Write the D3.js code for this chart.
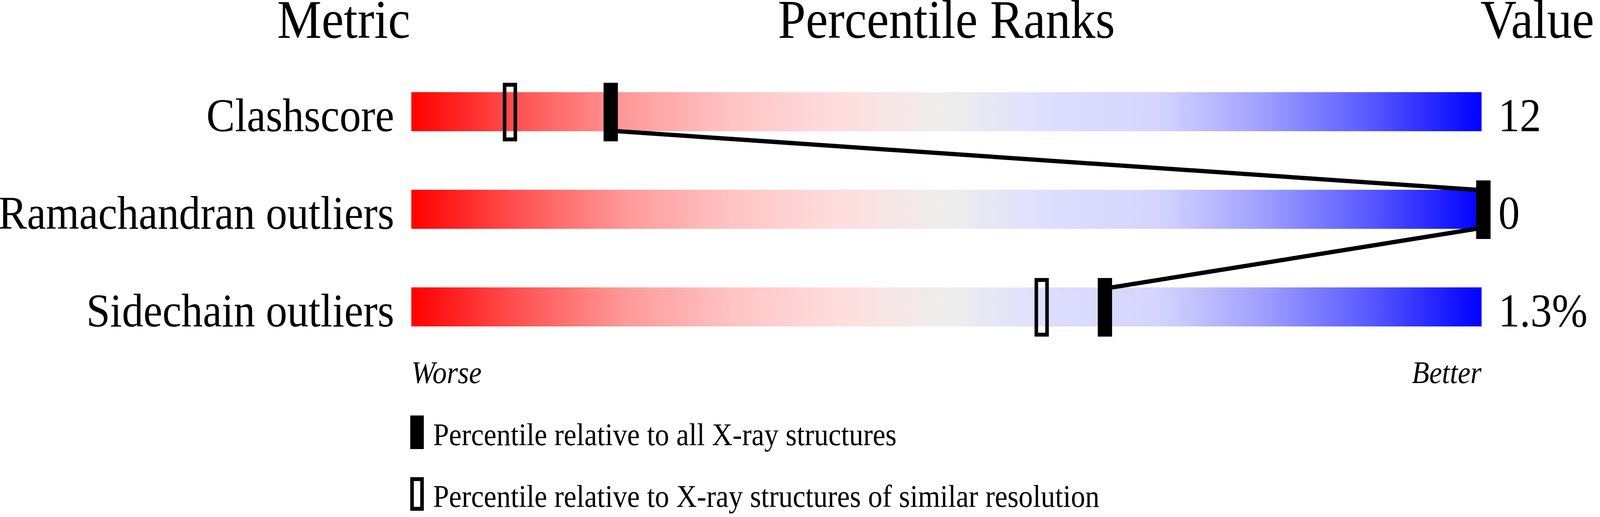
<!DOCTYPE html>
<html>
<head>
<meta charset="utf-8">
<script src="https://cdn.jsdelivr.net/npm/d3@7"></script>
<style>
  html, body { margin: 0; padding: 0; background: #fff; overflow: hidden; }
  svg { display: block; }
  text { font-family: "Liberation Serif", "Times New Roman", serif; fill: #000; }
</style>
</head>
<body>
<script>
// metric rows
var metrics = ["Clashscore", "Ramachandran outliers", "Sidechain outliers"];
var values = ["12", "0", "1.3%"];
// percentile ranks (0-100)
var pctAll = [18.6, 100, 64.7];      // relative to all X-ray structures
var pctSimilar = [9.2, 100, 58.8];   // relative to similar resolution
var headers = ["Metric", "Percentile Ranks", "Value"];
var legendLabels = ["Percentile relative to all X-ray structures",
                    "Percentile relative to X-ray structures of similar resolution"];

var W = 4485, H = 1324;
var barLeft = 1153, barRight = 4153;

// gradient stops, worse (red) -> better (blue)
var gradStops = [
  [0, "#ff0000"], [0.1, "#ff5252"], [0.2, "#ff9999"], [0.3, "#ffc4c4"],
  [0.4, "#ffdddd"], [0.5, "#eeeeee"], [0.6, "#ddddff"], [0.7, "#d4d4ff"],
  [0.8, "#9c9cff"], [0.9, "#5555ff"], [1, "#0000ff"]
];

// drawing is done in a 4485x1324 box stretched over the window
var svg = d3.select("body").append("svg")
  .attr("viewBox", "0 0 " + W + " " + H)
  .attr("preserveAspectRatio", "none")
  .style("width", "100vw")
  .style("height", "100vh");

var grad = svg.append("defs").append("linearGradient")
  .attr("id", "pgrad")
  .attr("x1", "0%").attr("x2", "100%").attr("y1", "0%").attr("y2", "0%");
grad.selectAll("stop").data(gradStops).enter().append("stop")
  .attr("offset", function (d) { return d[0]; })
  .attr("stop-color", function (d) { return d[1]; });

var x = d3.scaleLinear().domain([0, 100]).range([barLeft, barRight + 5]);
var y = d3.scaleBand().domain(metrics).range([161, 911])
  .paddingInner(0.6).paddingOuter(0.3);
var bw = y.bandwidth();
var mW = 40, mH = 150, mTop = 24; // marker size and overhang above bar

// headers
svg.append("text").attr("x", 1150).attr("y", 97)
  .attr("text-anchor", "end").style("font-size", "140px").text(headers[0]);
svg.append("text").attr("x", (barLeft + barRight) / 2).attr("y", 97)
  .attr("text-anchor", "middle").style("font-size", "140px").text(headers[1]);
svg.append("text").attr("x", 4150).attr("y", 97)
  .attr("text-anchor", "start").style("font-size", "140px").text(headers[2]);

// gradient bars
svg.selectAll("rect.bar").data(metrics).enter().append("rect")
  .attr("class", "bar")
  .attr("x", barLeft)
  .attr("y", function (d) { return y(d); })
  .attr("width", barRight - barLeft)
  .attr("height", bw)
  .style("fill", "url(#pgrad)");

// metric names
svg.selectAll("text.metric").data(metrics).enter().append("text")
  .attr("class", "metric")
  .attr("x", 1105)
  .attr("y", function (d) { return y(d) + bw; })
  .attr("text-anchor", "end")
  .style("font-size", "120px")
  .text(function (d) { return d; });

// values
svg.selectAll("text.value").data(values).enter().append("text")
  .attr("class", "value")
  .attr("x", 4200)
  .attr("y", function (d, i) { return y(metrics[i]) + bw; })
  .style("font-size", "120px")
  .text(function (d) { return d; });

// connecting lines between the black markers
for (var i = 0; i < metrics.length - 1; i++) {
  var xa = x(pctAll[i]), xb = x(pctAll[i + 1]);
  var s = xb >= xa ? 1 : -1;
  svg.append("line")
    .attr("x1", xa + s * mW / 2).attr("y1", y(metrics[i]) + bw)
    .attr("x2", xb - s * mW / 2).attr("y2", y(metrics[i + 1]))
    .style("stroke", "#000").style("stroke-width", 11);
}

// similar-resolution markers (open)
svg.selectAll("rect.sim").data(pctSimilar).enter().append("rect")
  .attr("class", "sim")
  .attr("x", function (d) { return x(d) - mW / 2 + 5; })
  .attr("y", function (d, i) { return y(metrics[i]) - mTop + 5; })
  .attr("width", mW - 10)
  .attr("height", mH - 10)
  .style("fill", "none").style("stroke", "#000").style("stroke-width", 10);

// all-structures markers (filled)
svg.selectAll("rect.all").data(pctAll).enter().append("rect")
  .attr("class", "all")
  .attr("x", function (d) { return x(d) - mW / 2; })
  .attr("y", function (d, i) { return y(metrics[i]) - mTop; })
  .attr("width", mW)
  .attr("height", mH)
  .style("fill", "#000");

// worse / better
svg.append("text").attr("x", barLeft).attr("y", 981)
  .style("font-size", "80px").style("font-style", "italic").text("Worse");
svg.append("text").attr("x", barRight).attr("y", 981)
  .attr("text-anchor", "end")
  .style("font-size", "80px").style("font-style", "italic").text("Better");

// legend
var legY = [1064, 1222];
svg.append("rect").attr("x", 1150).attr("y", legY[0])
  .attr("width", 38).attr("height", 86).style("fill", "#000");
svg.append("rect").attr("x", 1155).attr("y", legY[1] + 5)
  .attr("width", 28).attr("height", 76)
  .style("fill", "none").style("stroke", "#000").style("stroke-width", 10);
svg.selectAll("text.leg").data(legendLabels).enter().append("text")
  .attr("class", "leg")
  .attr("x", 1214)
  .attr("y", function (d, i) { return legY[i] + 76; })
  .style("font-size", "80px")
  .text(function (d) { return d; });
</script>
</body>
</html>
